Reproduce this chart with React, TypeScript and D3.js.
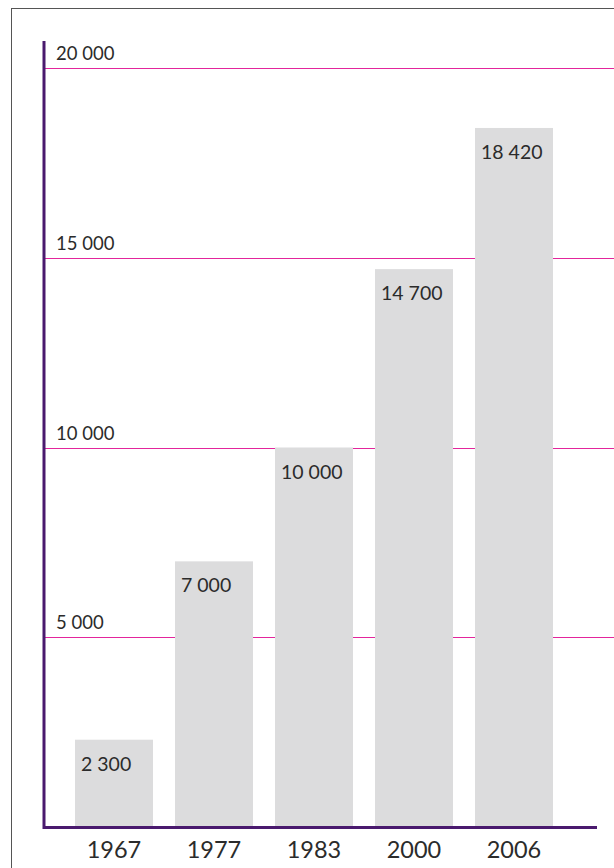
import React from "react";
import * as d3 from "d3";

const years = ["1967", "1977", "1983", "2000", "2006"];
const values = [2300, 7000, 10000, 14700, 18420];
const valueLabels = ["2 300", "7 000", "10 000", "14 700", "18 420"];
const tickValues = [5000, 10000, 15000, 20000];
const tickLabels = ["5 000", "10 000", "15 000", "20 000"];

export default function App() {
  const W = 614, H = 868;
  const axisX = 44;
  const y = d3.scaleLinear().domain([0, 20000]).range([827, 68]);
  const x = d3.scaleBand().domain(years).range([64, 564]).paddingInner(0.22).paddingOuter(0.11);
  const font = "Lato, 'Open Sans', sans-serif";
  const crisp = (v: number) => Math.round(v) + 0.5;
  return (
    <svg width={W} height={H} style={{ position: "absolute", left: 0, top: 0 }}>
      <rect x={0} y={0} width={W} height={H} fill="#fff" />
      <line x1={11.5} y1={8} x2={11.5} y2={H} stroke="#555" strokeWidth={1} />
      <line x1={11} y1={8.5} x2={W} y2={8.5} stroke="#555" strokeWidth={1} />
      {tickValues.map((t, i) => (
        <g key={t}>
          <line x1={axisX} x2={W} y1={crisp(y(t))} y2={crisp(y(t))} stroke="#e3259c" strokeWidth={1} />
          <text x={56} y={y(t) - 8} fontFamily={font} fontSize={18.5} fill="#2b2b2b">{tickLabels[i]}</text>
        </g>
      ))}
      {years.map((yr, i) => (
        <g key={yr}>
          <rect x={x(yr)} y={y(values[i])} width={x.bandwidth()} height={y(0) - y(values[i])} fill="#dcdcdd" />
          <text x={(x(yr) as number) + 6} y={y(values[i]) + 31} fontFamily={font} fontSize={19.5} fill="#2b2b2b">{valueLabels[i]}</text>
          <text x={(x(yr) as number) + x.bandwidth() / 2} y={858} textAnchor="middle" fontFamily={font} fontSize={23.5} fill="#2b2b2b">{yr}</text>
        </g>
      ))}
      <line x1={axisX} x2={axisX} y1={41} y2={829} stroke="#4a1a6e" strokeWidth={3} />
      <line x1={axisX - 1} x2={597} y1={827.5} y2={827.5} stroke="#4a1a6e" strokeWidth={3} />
    </svg>
  );
}
